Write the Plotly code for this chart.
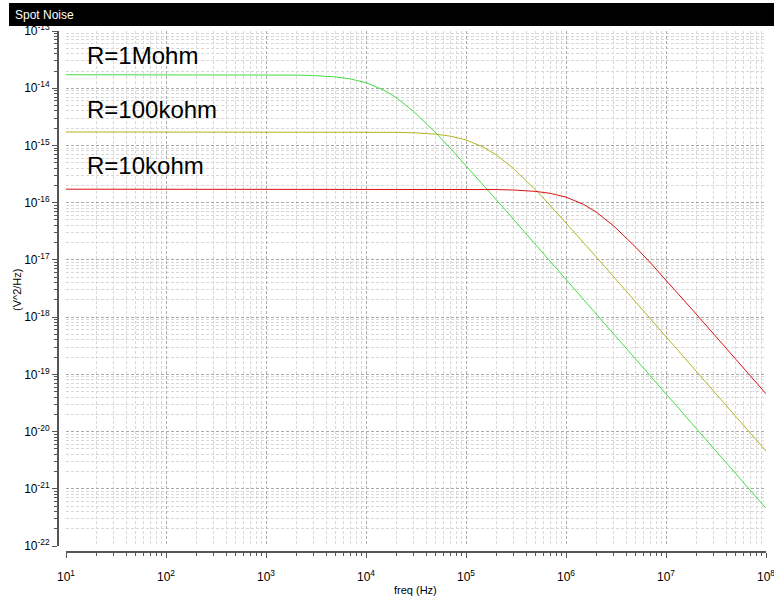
import plotly.graph_objects as go

freq = [10, 100, 1e3, 2e3, 3e3, 5e3, 7e3, 1e4, 1.5e4, 2e4, 3e4, 5e4, 7e4, 1e5,
        1.5e5, 2e5, 3e5, 5e5, 7e5, 1e6, 1.5e6, 2e6, 3e6, 5e6, 7e6, 1e7, 2e7, 5e7, 1e8]

noise_1meg = [1.72e-14, 1.72e-14, 1.714e-14, 1.695e-14, 1.664e-14, 1.572e-14, 1.452e-14,
              1.250e-14, 9.31e-15, 6.87e-15, 3.92e-15, 1.652e-15, 8.85e-16, 4.45e-16,
              2.007e-16, 1.135e-16, 5.06e-17, 1.826e-17, 9.32e-18, 4.57e-18, 2.031e-18,
              1.142e-18, 5.08e-19, 1.828e-19, 9.33e-20, 4.57e-20, 1.142e-20, 1.828e-21, 4.57e-22]

noise_100k = [1.72e-15, 1.72e-15, 1.72e-15, 1.720e-15, 1.719e-15, 1.718e-15, 1.717e-15,
              1.714e-15, 1.706e-15, 1.695e-15, 1.664e-15, 1.572e-15, 1.452e-15, 1.250e-15,
              9.31e-16, 6.87e-16, 3.92e-16, 1.652e-16, 8.85e-17, 4.45e-17, 2.007e-17,
              1.135e-17, 5.06e-18, 1.826e-18, 9.32e-19, 4.57e-19, 1.142e-19, 1.828e-20, 4.57e-21]

noise_10k = [1.72e-16, 1.72e-16, 1.72e-16, 1.72e-16, 1.72e-16, 1.72e-16, 1.72e-16,
             1.72e-16, 1.720e-16, 1.720e-16, 1.719e-16, 1.718e-16, 1.717e-16, 1.714e-16,
             1.706e-16, 1.695e-16, 1.664e-16, 1.572e-16, 1.452e-16, 1.250e-16, 9.31e-17,
             6.87e-17, 3.92e-17, 1.652e-17, 8.85e-18, 4.45e-18, 1.135e-18, 1.826e-19, 4.57e-20]

labels = ["R=1Mohm", "R=100kohm", "R=10kohm"]
label_y = [-13.43, -14.37, -15.35]

x_exps = [1, 2, 3, 4, 5, 6, 7, 8]
y_exps = [-22, -21, -20, -19, -18, -17, -16, -15, -14, -13]

FONT = "Liberation Sans, Arial, sans-serif"
AXC = "#555555"

fig = go.Figure()
for ys, col in [(noise_1meg, "#44dd44"), (noise_100k, "#b4b41e"), (noise_10k, "#dd1111")]:
    fig.add_trace(go.Scatter(x=freq, y=ys, mode="lines",
                             line=dict(color=col, width=1), showlegend=False,
                             hoverinfo="skip"))

W, H = 774, 598
ml, mr, mt, mb = 58, 8, 31, 46
pw, ph = W - ml - mr, H - mt - mb

def px_x(x):
    return (x - ml) / pw

def px_y(y):
    return (H - mb - y) / ph

def minor_vals(exps):
    return [m * 10.0 ** e for e in exps[:-1] for m in range(2, 10)]

grid_major = dict(showgrid=True, gridcolor="#aaaaaa", griddash="3px,2px", gridwidth=1)

def minor(exps):
    return dict(tickmode="array", tickvals=minor_vals(exps), ticks="outside", ticklen=3,
                tickcolor=AXC, showgrid=True, gridcolor="#d8d8d8",
                griddash="3px,2px", gridwidth=1)

fig.update_layout(
    width=W, height=H,
    margin=dict(l=ml, r=mr, t=mt, b=mb),
    paper_bgcolor="white", plot_bgcolor="white",
    font=dict(family=FONT, size=12, color="black"),
    xaxis=dict(type="log", range=[0.99999, 8.00001], domain=[px_x(66), 1], anchor="free", position=0,
               tickmode="array", tickvals=[10.0 ** e for e in x_exps],
               ticktext=["10<sup>%d</sup>" % e for e in x_exps],
               showline=True, linecolor=AXC, linewidth=2, automargin=False,
               ticklabeloverflow="allow",
               ticks="outside", ticklen=5, tickcolor=AXC, ticklabelstandoff=9,
               tickfont=dict(size=12), zeroline=False, minor=minor(x_exps),
               **grid_major),
    yaxis=dict(type="log", range=[-22.00001, -12.99999], domain=[px_y(546), 1], anchor="free", position=0,
               tickmode="array", tickvals=[10.0 ** e for e in y_exps],
               ticktext=["10<sup>%d</sup>" % e for e in y_exps],
               showline=True, linecolor=AXC, linewidth=2, automargin=False,
               ticklabeloverflow="allow",
               ticks="outside", ticklen=5, tickcolor=AXC, ticklabelstandoff=0,
               tickfont=dict(size=12), zeroline=False, minor=minor(y_exps),
               **grid_major),
    shapes=[dict(type="rect", xref="paper", yref="paper",
                 x0=px_x(9), x1=px_x(774), y0=px_y(26), y1=px_y(3),
                 fillcolor="black", line=dict(width=0), layer="above")],
)

fig.add_annotation(x=px_x(13), y=px_y(15), xref="paper", yref="paper", text="Spot Noise",
                   showarrow=False, xanchor="left", yanchor="middle",
                   font=dict(color="white", size=12, family=FONT))

fig.add_annotation(x=px_x(416), y=px_y(590), xref="paper", yref="paper", text="freq (Hz)",
                   showarrow=False, xanchor="center", yanchor="middle",
                   font=dict(size=11, color="black", family=FONT))

fig.add_annotation(x=px_x(17), y=px_y(290), xref="paper", yref="paper", text="(V^2/Hz)",
                   showarrow=False, xanchor="center", yanchor="middle", textangle=-90,
                   font=dict(size=11, color="black", family=FONT))

for t, ly in zip(labels, label_y):
    fig.add_annotation(x=1.19, y=ly, xref="x", yref="y", text=t, showarrow=False,
                       xanchor="left", yanchor="middle",
                       font=dict(size=24, color="black", family=FONT))

fig.write_html("out.html", post_script="document.body.style.margin='0';",
               config={"displayModeBar": False})
